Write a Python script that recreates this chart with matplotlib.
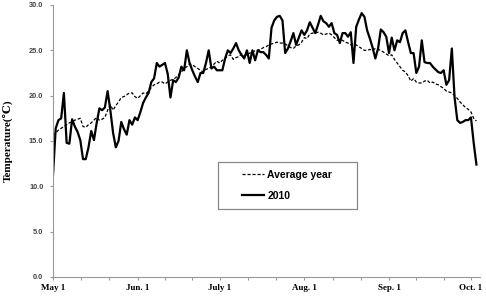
import numpy as np
import matplotlib
matplotlib.use("Agg")
import matplotlib.pyplot as plt
from matplotlib.patches import Rectangle

# daily mean temperature, May 1 .. Oct 3
temp_2010 = [
    11.2, 16.4, 17.3, 17.5, 20.3, 14.8, 14.7, 17.4, 16.6, 16.0,
    15.1, 13.0, 13.0, 14.3, 16.1, 15.1, 17.0, 18.6, 18.4, 18.7,
    20.5, 18.4, 15.9, 14.3, 15.0, 17.1, 16.3, 15.7, 17.3, 16.8,
    17.6, 17.3, 18.2, 19.2, 19.8, 20.3, 21.5, 21.9, 23.6, 23.2,
    23.4, 23.6, 22.4, 19.8, 21.7, 21.5, 22.0, 23.2, 22.8, 25.0,
    23.6, 22.8, 22.1, 21.5, 22.5, 22.5, 23.6, 25.0, 23.0, 23.2,
    22.8, 22.8, 22.8, 24.1, 25.0, 24.7, 25.2, 25.8, 25.0, 24.5,
    24.1, 25.0, 23.6, 25.0, 23.9, 25.0, 24.8, 24.8, 24.5, 24.1,
    27.5, 28.3, 28.7, 28.8, 28.3, 24.7, 25.2, 26.0, 26.9, 25.6,
    26.4, 27.2, 26.7, 27.2, 28.1, 27.5, 26.9, 27.8, 28.8, 28.2,
    28.0, 27.6, 28.0, 26.9, 26.7, 25.8, 26.9, 26.9, 26.5, 27.0,
    23.6, 27.6, 28.4, 29.1, 28.7, 27.2, 26.3, 25.3, 24.1, 25.2,
    27.3, 27.0, 26.5, 24.7, 26.4, 25.0, 26.1, 25.9, 26.9, 27.2,
    25.9, 24.7, 24.7, 22.5, 23.2, 26.1, 23.7, 23.6, 23.6, 23.2,
    22.9, 22.6, 22.5, 22.8, 21.2, 21.7, 25.2, 19.8, 17.3, 17.0,
    17.1, 17.3, 17.3, 17.6, 14.8, 12.4,
]

temp_avg = [
    15.6, 15.9, 16.2, 16.4, 16.6, 16.8, 17.0, 17.1, 17.3, 17.4,
    17.5, 16.6, 16.5, 16.8, 17.0, 17.3, 17.6, 17.3, 17.4, 17.6,
    18.4, 19.0, 18.4, 18.9, 19.3, 19.8, 19.9, 20.1, 20.3, 20.3,
    19.9, 19.7, 20.0, 20.3, 20.2, 20.5, 20.9, 21.2, 21.3, 21.5,
    21.5, 21.3, 21.5, 21.7, 21.8, 22.0, 22.3, 22.6, 23.0, 23.2,
    23.5, 23.4, 23.2, 23.0, 22.8, 22.6, 22.9, 23.0, 23.2, 23.5,
    23.8, 23.6, 23.9, 24.1, 24.4, 24.5, 24.0, 24.2, 24.3, 24.6,
    24.4, 24.5, 24.7, 24.7, 25.0, 25.0, 25.1, 25.3, 25.4, 25.6,
    25.7, 25.8, 25.9, 25.8, 25.8, 25.7, 25.5, 25.3, 25.2, 25.5,
    25.6, 25.9, 26.4, 26.3, 26.8, 26.9, 26.9, 27.0, 26.9, 26.7,
    26.8, 26.9, 26.7, 26.4, 26.1, 26.2, 26.1, 25.9, 25.8, 25.6,
    25.7, 25.6, 25.4, 25.2, 25.0, 25.0, 25.1, 25.0, 25.2, 25.1,
    25.0, 24.8, 24.6, 24.4, 24.5, 24.0, 23.6, 23.2, 22.8, 22.6,
    22.2, 21.6, 21.9, 21.5, 21.4, 21.4, 21.6, 21.7, 21.4, 21.5,
    21.3, 21.2, 21.0, 20.8, 20.5, 20.4, 20.3, 20.0, 19.7, 19.3,
    19.0, 18.7, 18.5, 18.2, 17.5, 17.2,
]

days = np.arange(len(temp_2010))

# first day of each month, counted from May 1
month_days = [0, 31, 61, 92, 123, 153]
month_labels = ["May 1", "Jun. 1", "July 1", "Aug. 1", "Sep. 1", "Oct. 1"]

fig = plt.figure(figsize=(4.86, 2.99), dpi=100)
ax = fig.add_axes([0.109, 0.0736, 0.8786, 0.9097])

ax.plot(days, temp_avg, color="black", lw=0.9, ls=(0, (2.5, 1.5)), label="Average year")
ax.plot(days, temp_2010, color="black", lw=1.6, label="2010")

ax.set_xlim(0, 156.3)
ax.set_ylim(0, 30)

# axis styling
for side in ["top", "right"]:
    ax.spines[side].set_visible(False)
for side in ["left", "bottom"]:
    ax.spines[side].set_color("#999999")
    ax.spines[side].set_linewidth(0.8)

ax.set_yticks(np.arange(0, 31, 5))
ax.set_yticklabels(["%.1f" % v for v in np.arange(0, 31, 5)],
                   fontsize=5.3, fontweight="bold", color="#444444",
                   family="Liberation Sans")

ax.set_xticks(month_days)
ax.set_xticklabels(month_labels, fontsize=6.5, fontweight="bold",
                   family="Liberation Serif")
minor = []
for a, b in zip(month_days[:-1], month_days[1:]):
    minor += [a + (b - a) / 3, a + 2 * (b - a) / 3]
ax.set_xticks(minor, minor=True)

ax.tick_params(axis="both", which="both", direction="out", color="#999999",
               length=2.5, width=0.8)
ax.tick_params(axis="y", pad=4.5)
ax.tick_params(axis="x", pad=2.5)

ax.set_ylabel("Temperature(\u2103)", fontsize=8, fontweight="bold",
              family=["Liberation Serif", "DejaVu Serif"], labelpad=4)
ax.yaxis.set_label_coords(-0.093, 0.5)

# legend inside its own box
box = Rectangle((0.386, 0.25), 0.326, 0.173, transform=ax.transAxes,
                fill=False, edgecolor="#888888", lw=0.9)
ax.add_patch(box)
ax.legend(loc="center", bbox_to_anchor=(0.549, 0.337), frameon=False,
          prop={"family": "Liberation Sans", "weight": "bold", "size": 7.5},
          handlelength=2.1, handletextpad=0.3, labelspacing=1.1)

fig.savefig("out.png", dpi=100)
